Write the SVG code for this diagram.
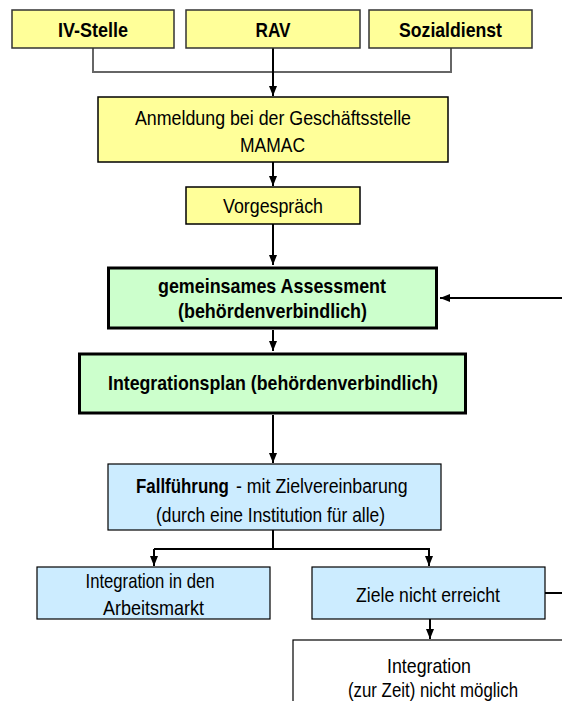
<svg xmlns="http://www.w3.org/2000/svg" width="562" height="701" viewBox="0 0 562 701">
<style>
  .t { font-family: "Liberation Sans Narrow", "Liberation Sans", Arial, sans-serif; font-size: 21px; fill: #000; text-anchor: middle; }
  .r { font-family: "Liberation Sans", Arial, sans-serif; font-size: 21px; fill: #000; text-anchor: start; }
  .b { font-weight: bold; }
  .yel { fill: #FFFF99; stroke: #333; stroke-width: 1.5; }
  .grn { fill: #CCFFCC; stroke: #000; stroke-width: 3; }
  .blu { fill: #CCECFF; stroke: #000; stroke-width: 1.2; }
  .wht { fill: #FFFFFF; stroke: #000; stroke-width: 1.2; }
  .ln { fill: none; stroke: #000; stroke-width: 2; }
  .gl { fill: none; stroke: #666; stroke-width: 2; }
</style>
<defs>
  <marker id="ah" markerUnits="userSpaceOnUse" markerWidth="10" markerHeight="10" refX="10" refY="5" orient="auto">
    <path d="M0,1 L10,5 L0,9 Z" fill="#000"/>
  </marker>
</defs>
<rect width="562" height="701" fill="#fff"/>

<g id="connectors">
  <path class="gl" d="M93,48 V72 H451 V48"/>
  <path class="ln" d="M273,48 V96" marker-end="url(#ah)"/>
  <path class="ln" d="M273,162 V186" marker-end="url(#ah)"/>
  <path class="ln" d="M273,224 V265" marker-end="url(#ah)"/>
  <path class="ln" d="M273,330 V351" marker-end="url(#ah)"/>
  <path class="ln" d="M273,415 V463" marker-end="url(#ah)"/>
  <path class="ln" d="M273,530 V549"/>
  <path class="ln" d="M154,549 H430"/>
  <path class="ln" d="M154,549 V566" marker-end="url(#ah)"/>
  <path class="ln" d="M429,549 V566" marker-end="url(#ah)"/>
  <path class="ln" d="M430,619 V639" marker-end="url(#ah)"/>
  <path class="ln" d="M545,593 H566 V298 H440" stroke-width="1.6" marker-end="url(#ah)"/>
</g>

<g id="iv-stelle">
  <rect class="yel" x="12" y="10" width="162" height="38"/>
  <text class="t b" x="93" y="37" textLength="70" lengthAdjust="spacingAndGlyphs">IV-Stelle</text>
</g>
<g id="rav">
  <rect class="yel" x="186" y="10" width="174" height="38"/>
  <text class="t b" x="273" y="37" textLength="35" lengthAdjust="spacingAndGlyphs">RAV</text>
</g>
<g id="sozialdienst">
  <rect class="yel" x="369" y="10" width="163" height="38"/>
  <text class="t b" x="450.5" y="37" textLength="103" lengthAdjust="spacingAndGlyphs">Sozialdienst</text>
</g>
<g id="anmeldung">
  <rect class="yel" x="98" y="97" width="350" height="65" style="stroke:#000"/>
  <text class="t" x="273" y="125" textLength="276" lengthAdjust="spacingAndGlyphs">Anmeldung bei der Geschäftsstelle</text>
  <text class="t" x="272.5" y="152" textLength="65" lengthAdjust="spacingAndGlyphs">MAMAC</text>
</g>
<g id="vorgespraech">
  <rect class="yel" x="186" y="187" width="174" height="37" style="stroke:#000"/>
  <text class="t" x="273" y="213" textLength="100" lengthAdjust="spacingAndGlyphs">Vorgespräch</text>
</g>
<g id="assessment">
  <rect class="grn" x="108.5" y="268" width="328" height="60"/>
  <text class="t b" x="272" y="293" textLength="228" lengthAdjust="spacingAndGlyphs">gemeinsames Assessment</text>
  <text class="t b" x="272.5" y="318" textLength="189" lengthAdjust="spacingAndGlyphs">(behördenverbindlich)</text>
</g>
<g id="integrationsplan">
  <rect class="grn" x="79.5" y="354" width="386" height="59"/>
  <text class="t b" x="273" y="390" textLength="330" lengthAdjust="spacingAndGlyphs">Integrationsplan (behördenverbindlich)</text>
</g>
<g id="fallfuehrung">
  <rect class="blu" x="108" y="464" width="333" height="66"/>
  <text class="r b" transform="matrix(0.805,0,0,1,136,493)">Fallführung</text>
  <text class="r" transform="matrix(0.845,0,0,1,236,493)">- mit Zielvereinbarung</text>
  <text class="t" x="270.5" y="522" textLength="229" lengthAdjust="spacingAndGlyphs">(durch eine Institution für alle)</text>
</g>
<g id="integration-arbeitsmarkt">
  <rect class="blu" x="37" y="567" width="233" height="52"/>
  <text class="t" x="150" y="588" textLength="129" lengthAdjust="spacingAndGlyphs">Integration in den</text>
  <text class="t" x="153.5" y="615" textLength="101" lengthAdjust="spacingAndGlyphs">Arbeitsmarkt</text>
</g>
<g id="ziele-nicht-erreicht">
  <rect class="blu" x="312" y="567" width="233" height="52"/>
  <text class="t" x="428" y="602" textLength="144" lengthAdjust="spacingAndGlyphs">Ziele nicht erreicht</text>
</g>
<g id="integration-nicht-moeglich">
  <rect class="wht" x="293" y="640" width="300" height="100"/>
  <text class="t" x="429" y="673" textLength="84" lengthAdjust="spacingAndGlyphs">Integration</text>
  <text class="t" x="433" y="697" textLength="170" lengthAdjust="spacingAndGlyphs">(zur Zeit) nicht möglich</text>
</g>
</svg>
